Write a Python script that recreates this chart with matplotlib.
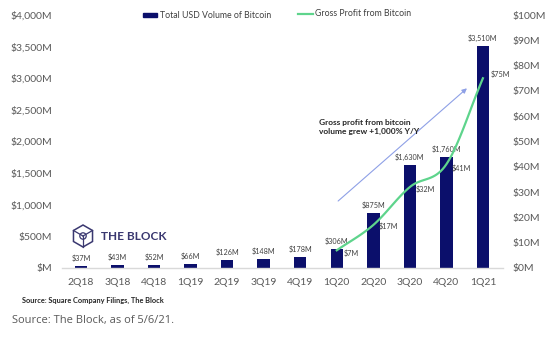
import matplotlib
matplotlib.use("Agg")
import matplotlib.pyplot as plt
import numpy as np
from matplotlib.patches import Rectangle, RegularPolygon, Circle
from matplotlib.lines import Line2D

plt.rcParams['font.family'] = ['Lato', 'DejaVu Sans']

quarters = ["2Q18", "3Q18", "4Q18", "1Q19", "2Q19", "3Q19", "4Q19",
            "1Q20", "2Q20", "3Q20", "4Q20", "1Q21"]
volume = [37, 43, 52, 66, 126, 148, 178, 306, 875, 1630, 1760, 3510]
profit_quarters = ["1Q20", "2Q20", "3Q20", "4Q20", "1Q21"]
profit = [7, 17, 32, 41, 75]
left_ticks = [0, 500, 1000, 1500, 2000, 2500, 3000, 3500, 4000]
right_ticks = [0, 10, 20, 30, 40, 50, 60, 70, 80, 90, 100]

W, H = 560, 337
fig = plt.figure(figsize=(W / 100, H / 100), dpi=100)
fig.patch.set_facecolor("white")

def fx(px):
    return px / W

def fy(py):
    return 1 - py / H

ax = fig.add_axes([fx(62), fy(268), fx(503) - fx(62), fy(15) - fy(268)])
x = np.arange(len(quarters))
navy = "#0b0f6b"
green = "#5ed48c"
grey = "#595959"

ax.bar(x, volume, width=0.34, color=navy, zorder=2)
ax.set_xlim(-0.52, 11.55)
ax.set_ylim(0, 4000)
ax.set_yticks(left_ticks)
ax.set_yticklabels([f"${v:,}M" if v else "$M" for v in left_ticks])
ax.set_xticks(x)
ax.set_xticklabels(quarters)
ax.tick_params(axis='both', length=0, labelsize=7.5, colors=grey)
ax.tick_params(axis='x', pad=7)
ax.tick_params(axis='y', pad=7)
for s in ["top", "right", "left"]:
    ax.spines[s].set_visible(False)
ax.spines["bottom"].set_color("#d9d9d9")
ax.spines["bottom"].set_linewidth(1.0)

for xi, v in zip(x, volume):
    ax.text(xi, v + 60, f"${v:,}M", ha="center", va="bottom", fontsize=5.2, color="#404040")

ax2 = ax.twinx()
ax2.set_ylim(0, 100)
ax2.set_yticks(right_ticks)
ax2.set_yticklabels([f"${v}M" for v in right_ticks])
ax2.tick_params(axis='y', length=0, labelsize=7.5, colors=grey, pad=7)
for s in ax2.spines.values():
    s.set_visible(False)

# smooth profit line (Catmull-Rom through data points)
px = np.array([quarters.index(q) for q in profit_quarters], dtype=float)
py = np.array(profit, dtype=float)
P = np.column_stack([px, py])
P_ext = np.vstack([P[0] - (P[1] - P[0]), P, P[-1] + (P[-1] - P[-2])])
curve = []
for i in range(1, len(P_ext) - 2):
    p0, p1, p2, p3 = P_ext[i - 1], P_ext[i], P_ext[i + 1], P_ext[i + 2]
    for t in np.linspace(0, 1, 20):
        t2, t3 = t * t, t * t * t
        pt = 0.5 * ((2 * p1) + (-p0 + p2) * t + (2 * p0 - 5 * p1 + 4 * p2 - p3) * t2
                    + (-p0 + 3 * p1 - 3 * p2 + p3) * t3)
        curve.append(pt)
curve = np.array(curve)
ax2.plot(curve[:, 0], curve[:, 1], color=green, lw=1.6, zorder=3)

offs = {0: (0.2, -1.2), 1: (0.15, -0.5), 2: (0.15, -1.0), 3: (0.15, -1.5), 4: (0.2, 1.5)}
for i, (xi, v) in enumerate(zip(px, py)):
    dx, dy = offs[i]
    ax2.text(xi + dx, v + dy, f"${v:.0f}M", ha="left", va="center", fontsize=5.2, color="#404040")

# growth arrow and annotation
ax.annotate("", xy=(10.62, 2870), xytext=(6.98, 1030),
            arrowprops=dict(arrowstyle="-|>", color="#8ea0e6", lw=0.8,
                            mutation_scale=7))
ax.text(6.52, 2230, "Gross profit from bitcoin\nvolume grew +1,000% Y/Y",
        fontsize=6.0, fontweight="bold", color="#262626", ha="left", va="center",
        linespacing=1.25)

# legend
fig.add_artist(Rectangle((fx(143), fy(17)), fx(14), fy(13) - fy(17),
                         transform=fig.transFigure, color=navy))
fig.text(fx(160), fy(15), "Total USD Volume of Bitcoin", fontsize=6.3,
         color="#404040", va="center", ha="left")
fig.add_artist(Line2D([fx(298), fx(313)], [fy(14), fy(14)],
                      transform=fig.transFigure, color=green, lw=1.6))
fig.text(fx(315), fy(14), "Gross Profit from Bitcoin", fontsize=6.3,
         color="#404040", va="center", ha="left")

# logo
logo_col = "#3a3870"
cx, cy = 83, 236
fig_ax = fig.add_axes([0, 0, 1, 1], facecolor="none")
fig_ax.set_xlim(0, W)
fig_ax.set_ylim(H, 0)
fig_ax.axis("off")
hexp = RegularPolygon((cx, cy), 6, radius=11, orientation=0, fill=False,
                      edgecolor=logo_col, lw=1.1)
fig_ax.add_patch(hexp)
angles = np.deg2rad([90, 210, 330])
for a in angles:
    fig_ax.plot([cx, cx + 11 * np.cos(a)], [cy, cy + 11 * np.sin(a)], color=logo_col, lw=0.9)
fig_ax.add_patch(Circle((cx, cy), 3.2, fill=False, edgecolor=logo_col, lw=0.9))
fig_ax.text(101, 237, "THE BLOCK", fontsize=8.5, fontweight="bold", color=logo_col,
            ha="left", va="center")

# footers
fig.text(fx(22), fy(300), "Source: Square Company Filings, The Block", fontsize=5.3,
         fontweight="bold", color="#262626", ha="left", va="center")
fig.text(fx(12), fy(321), "Source: The Block, as of 5/6/21.", fontsize=8,
         color="#595959", ha="left", va="center", family=["Open Sans", "DejaVu Sans"])

fig.savefig("out.png", dpi=100, facecolor="white")
